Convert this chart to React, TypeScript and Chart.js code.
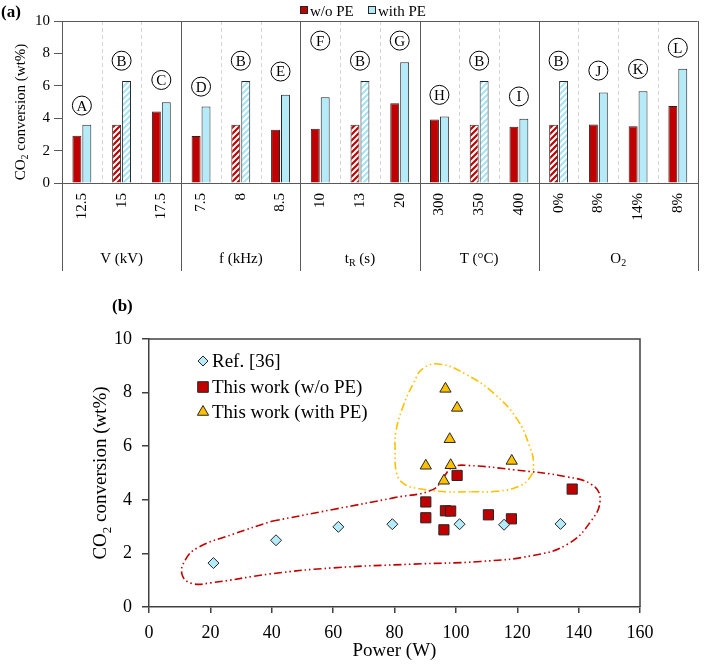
import React, { useEffect, useRef } from 'react';
import { Chart, registerables } from 'chart.js';

Chart.register(...registerables);

// ---------- data: panel (a) ----------
const categories = ['12.5', '15', '17.5', '7.5', '8', '8.5', '10', '13', '20', '300', '350', '400', '0%', '8%', '14%', '8%'];
const woPE = [2.92, 3.59, 4.41, 2.9, 3.59, 3.29, 3.35, 3.59, 4.93, 3.92, 3.59, 3.47, 3.59, 3.61, 3.51, 4.76];
const withPE = [3.59, 6.3, 4.99, 4.72, 6.3, 5.44, 5.3, 6.3, 7.45, 4.11, 6.3, 3.96, 6.3, 5.59, 5.67, 7.06];
const baseline = [false, true, false, false, true, false, false, true, false, false, true, false, true, false, false, false];
const letters = ['A', 'B', 'C', 'D', 'B', 'E', 'F', 'B', 'G', 'H', 'B', 'I', 'B', 'J', 'K', 'L'];
const letterValues = [4.78, 7.55, 6.36, 5.95, 7.55, 6.88, 8.79, 7.55, 8.79, 5.44, 7.55, 5.34, 7.55, 6.94, 7.04, 8.35];
const groupNames = ['V (kV)', 'f (kHz)', 't_R (s)', 'T (°C)', 'O_2'];
const groupSizes = [3, 3, 3, 3, 4];
const seriesNamesA = ['w/o PE', 'with PE'];
const yTitleA = 'CO_2 conversion (wt%)';

// ---------- data: panel (b) ----------
const refPower = [21, 41.4, 61.7, 79.3, 101.2, 115.7, 134.1];
const refConv = [1.64, 2.49, 2.99, 3.09, 3.09, 3.07, 3.1];
const woPower = [90.2, 90.2, 96.6, 98.3, 96.1, 100.4, 110.6, 118.1, 137.9];
const woConv = [3.92, 3.33, 3.59, 3.58, 2.88, 4.91, 3.44, 3.29, 4.4];
const withPower = [96.6, 100.4, 98.0, 90.2, 98.3, 118.2, 96.1];
const withConv = [8.14, 7.43, 6.26, 5.27, 5.29, 5.45, 4.71];
const seriesNamesB = ['Ref. [36]', 'This work (w/o PE)', 'This work (with PE)'];
// hand-drawn enclosing loops (data coordinates)
const redLoopX = [40, 60, 80, 92.5, 96, 99, 104, 118.8, 136, 144.5, 147, 144, 136.5, 125, 108, 86, 60, 40, 20, 14, 10.8, 11.8, 16, 27.5, 40];
const redLoopY = [3.2, 3.64, 4.08, 4.38, 4.85, 5.22, 5.28, 5.12, 4.86, 4.55, 4.0, 3.2, 2.35, 1.92, 1.7, 1.6, 1.46, 1.24, 0.9, 0.88, 1.2, 1.75, 2.22, 2.72, 3.2];
const orangeLoopX = [105, 113.4, 120.5, 124.2, 125.3, 124, 120, 112.3, 103.6, 95, 89.4, 86.2, 82.4, 80.4, 80.2, 80.7, 83, 87.3, 97, 105];
const orangeLoopY = [4.3, 4.32, 4.5, 4.85, 5.35, 6.0, 7.0, 7.98, 8.66, 9.06, 8.91, 8.35, 7.36, 6.5, 5.9, 5.0, 4.6, 4.43, 4.3, 4.3];
const xTitleB = 'Power (W)';
const yTitleB = 'CO_2 conversion (wt%)';

// ---------- styles ----------
const SERIF = '"Liberation Serif", "Times New Roman", Times, serif';
const RED = '#c00000';
const BLUE = '#b5ebf8';
const ORANGE = '#ffc000';
const EDGE = '#262626';
const AXIS_A = '#595959';
const DASH_A = '#d4d4d4';
const AXIS_B = '#404040';

Chart.defaults.font.family = SERIF;
Chart.defaults.color = '#000';

function parseRich(text: string) {
  const parts: { t: string; sub: boolean }[] = [];
  const re = /_(.)/g;
  let last = 0;
  let m: RegExpExecArray | null;
  while ((m = re.exec(text))) {
    if (m.index > last) parts.push({ t: text.slice(last, m.index), sub: false });
    parts.push({ t: m[1], sub: true });
    last = m.index + 2;
  }
  if (last < text.length) parts.push({ t: text.slice(last), sub: false });
  return parts;
}

function drawRich(ctx: CanvasRenderingContext2D, text: string, x: number, y: number, size: number, rotate = false, align = 'center', weight = 'normal') {
  const parts = parseRich(text);
  const subSize = Math.round(size * 0.66);
  ctx.save();
  ctx.translate(x, y);
  if (rotate) ctx.rotate(-Math.PI / 2);
  ctx.textBaseline = 'alphabetic';
  ctx.textAlign = 'left';
  ctx.fillStyle = '#000';
  let total = 0;
  const widths = parts.map((p) => {
    ctx.font = `${weight} ${p.sub ? subSize : size}px ${SERIF}`;
    const w = ctx.measureText(p.t).width;
    total += w;
    return w;
  });
  let cx = align === 'center' ? -total / 2 : 0;
  const baseY = size * 0.34;
  parts.forEach((p, i) => {
    ctx.font = `${weight} ${p.sub ? subSize : size}px ${SERIF}`;
    ctx.fillText(p.t, cx, p.sub ? baseY + size * 0.22 : baseY);
    cx += widths[i];
  });
  ctx.restore();
}

function makeHatch(color: string): CanvasPattern | string {
  const c = document.createElement('canvas');
  c.width = 6;
  c.height = 6;
  const g = c.getContext('2d');
  if (!g) return color;
  g.fillStyle = '#fff';
  g.fillRect(0, 0, 6, 6);
  g.strokeStyle = color;
  g.lineWidth = 2.2;
  g.beginPath();
  g.moveTo(-1, 7);
  g.lineTo(7, -1);
  g.moveTo(-1, 1);
  g.lineTo(1, -1);
  g.moveTo(5, 7);
  g.lineTo(7, 5);
  g.stroke();
  return g.createPattern(c, 'repeat') || color;
}

function hline(ctx: CanvasRenderingContext2D, x1: number, x2: number, y: number) {
  const yy = Math.round(y) + 0.5;
  ctx.beginPath();
  ctx.moveTo(x1, yy);
  ctx.lineTo(x2, yy);
  ctx.stroke();
}
function vline(ctx: CanvasRenderingContext2D, x: number, y1: number, y2: number) {
  const xx = Math.round(x) + 0.5;
  ctx.beginPath();
  ctx.moveTo(xx, y1);
  ctx.lineTo(xx, y2);
  ctx.stroke();
}

const LINE_BOTTOM_A = 271;
const GROUP_LABEL_Y = 258;

function groupEdges(chart: any): number[] {
  const x = chart.scales.x;
  const ca = chart.chartArea;
  const edges = [ca.left];
  let acc = 0;
  groupSizes.forEach((s) => {
    acc += s;
    edges.push(acc < categories.length ? (x.getPixelForValue(acc - 1) + x.getPixelForValue(acc)) / 2 : ca.right);
  });
  return edges;
}

const panelAPlugin = {
  id: 'panelA',
  beforeDatasetsDraw(chart: any) {
    const { ctx, chartArea: ca, scales } = chart;
    const x = scales.x;
    const ends = new Set<number>();
    let acc = 0;
    groupSizes.forEach((s) => {
      acc += s;
      ends.add(acc);
    });
    ctx.save();
    ctx.strokeStyle = DASH_A;
    ctx.lineWidth = 1;
    ctx.setLineDash([4, 3]);
    for (let i = 1; i < categories.length; i++) {
      if (ends.has(i)) continue;
      const px = (x.getPixelForValue(i - 1) + x.getPixelForValue(i)) / 2;
      vline(ctx, px, ca.top, ca.bottom);
    }
    ctx.restore();
  },
  afterDraw(chart: any) {
    const { ctx, chartArea: ca, scales } = chart;
    const x = scales.x;
    const y = scales.y;
    ctx.save();
    ctx.strokeStyle = AXIS_A;
    ctx.lineWidth = 1;
    hline(ctx, ca.left, ca.right, ca.top);
    const edges = groupEdges(chart);
    edges.forEach((px) => vline(ctx, px, ca.top, LINE_BOTTOM_A));
    groupNames.forEach((g, gi) => {
      drawRich(ctx, g, (edges[gi] + edges[gi + 1]) / 2, GROUP_LABEL_Y, 15);
    });
    // circled letters
    ctx.strokeStyle = '#000';
    ctx.lineWidth = 1;
    letters.forEach((l, i) => {
      const cx = x.getPixelForValue(i);
      const cy = y.getPixelForValue(letterValues[i]);
      ctx.beginPath();
      ctx.arc(cx, cy, 9.5, 0, Math.PI * 2);
      ctx.fillStyle = '#fff';
      ctx.fill();
      ctx.stroke();
      ctx.fillStyle = '#000';
      ctx.font = `15px ${SERIF}`;
      ctx.textAlign = 'center';
      ctx.textBaseline = 'middle';
      ctx.fillText(l, cx, cy + 1);
    });
    // legend
    const legendX = [300, 368];
    const fills = [RED, BLUE];
    seriesNamesA.forEach((name, i) => {
      ctx.fillStyle = fills[i];
      ctx.fillRect(legendX[i] + 0.5, 6.5, 7, 7);
      ctx.strokeStyle = EDGE;
      ctx.strokeRect(legendX[i] + 0.5, 6.5, 7, 7);
      drawRich(ctx, name, legendX[i] + 10, 10.5, 15, false, 'left');
    });
    drawRich(ctx, '(a)', 1, 11.5, 17, false, 'left', 'bold');
    drawRich(ctx, yTitleA, 20, 112, 15, true);
    ctx.restore();
  },
};

function drawMarker(ctx: CanvasRenderingContext2D, shape: string, cx: number, cy: number, r: number, fill: string) {
  ctx.beginPath();
  if (shape === 'rectRot') {
    ctx.moveTo(cx, cy - r);
    ctx.lineTo(cx + r, cy);
    ctx.lineTo(cx, cy + r);
    ctx.lineTo(cx - r, cy);
    ctx.closePath();
  } else if (shape === 'rect') {
    const s = r * Math.SQRT1_2;
    ctx.rect(cx - s, cy - s, 2 * s, 2 * s);
  } else {
    const a = (2 * Math.PI) / 3;
    ctx.moveTo(cx, cy - r);
    ctx.lineTo(cx + Math.sin(a) * r, cy - Math.cos(a) * r);
    ctx.lineTo(cx + Math.sin(2 * a) * r, cy - Math.cos(2 * a) * r);
    ctx.closePath();
  }
  ctx.fillStyle = fill;
  ctx.fill();
  ctx.strokeStyle = EDGE;
  ctx.lineWidth = 1;
  ctx.stroke();
}

const panelBPlugin = {
  id: 'panelB',
  afterDraw(chart: any) {
    const { ctx, chartArea: ca } = chart;
    ctx.save();
    ctx.strokeStyle = AXIS_B;
    ctx.lineWidth = 1.5;
    ctx.beginPath();
    ctx.moveTo(ca.left, ca.top);
    ctx.lineTo(ca.right, ca.top);
    ctx.lineTo(ca.right, ca.bottom);
    ctx.stroke();
    const shapes = ['rectRot', 'rect', 'triangle'];
    const fills = [BLUE, RED, ORANGE];
    const radii = [5, 7.5, 6.5];
    const rowsY = [22, 48, 73];
    seriesNamesB.forEach((name, i) => {
      drawMarker(ctx, shapes[i], ca.left + 54, ca.top + rowsY[i], radii[i], fills[i]);
      drawRich(ctx, name, ca.left + 63, ca.top + rowsY[i], 19, false, 'left');
    });
    drawRich(ctx, yTitleB, 100, (ca.top + ca.bottom) / 2, 19, true);
    drawRich(ctx, xTitleB, (ca.left + ca.right) / 2, 360, 19);
    drawRich(ctx, '(b)', 112, 15, 17, false, 'left', 'bold');
    ctx.restore();
  },
};

export default function App() {
  const refA = useRef<HTMLCanvasElement>(null);
  const refB = useRef<HTMLCanvasElement>(null);

  useEffect(() => {
    const redHatch = makeHatch(RED);
    const blueHatch = makeHatch('#a6e4f4');
    const chartA = new Chart(refA.current as HTMLCanvasElement, {
      type: 'bar',
      data: {
        labels: categories,
        datasets: [
          {
            label: seriesNamesA[0],
            data: woPE,
            backgroundColor: woPE.map((_, i) => (baseline[i] ? redHatch : RED)) as any,
            borderColor: EDGE,
            borderWidth: 1,
            categoryPercentage: 0.5,
            barPercentage: 0.9,
          },
          {
            label: seriesNamesA[1],
            data: withPE,
            backgroundColor: withPE.map((_, i) => (baseline[i] ? blueHatch : BLUE)) as any,
            borderColor: EDGE,
            borderWidth: 1,
            categoryPercentage: 0.5,
            barPercentage: 0.9,
          },
        ],
      },
      options: {
        responsive: false,
        animation: false,
        layout: { padding: { top: 21, right: 6, left: 0, bottom: 0 } },
        plugins: { legend: { display: false }, tooltip: { enabled: false } },
        scales: {
          x: {
            grid: { display: false, drawTicks: false },
            border: { display: true, color: AXIS_A, width: 1 },
            ticks: {
              autoSkip: false,
              minRotation: 90,
              maxRotation: 90,
              padding: 10,
              color: '#000',
              font: { family: SERIF, size: 15 },
            },
            afterFit: (s: any) => {
              s.height = 107;
            },
          },
          y: {
            min: 0,
            max: 10,
            ticks: { stepSize: 2, padding: 4, color: '#000', font: { family: SERIF, size: 15 } },
            grid: { drawOnChartArea: false, tickLength: 8, color: AXIS_A },
            border: { display: true, color: AXIS_A, width: 1 },
            afterFit: (s: any) => {
              s.width = 62;
            },
          },
        },
      },
      plugins: [panelAPlugin],
    });

    const chartB = new Chart(refB.current as HTMLCanvasElement, {
      type: 'scatter',
      data: {
        datasets: [
          {
            label: seriesNamesB[0],
            data: refPower.map((p, i) => ({ x: p, y: refConv[i] })),
            pointStyle: 'rectRot',
            pointRadius: 5.5,
            backgroundColor: BLUE,
            borderColor: EDGE,
            borderWidth: 1,
            order: 1,
          },
          {
            label: seriesNamesB[1],
            data: woPower.map((p, i) => ({ x: p, y: woConv[i] })),
            pointStyle: 'rect',
            pointRadius: 7.2,
            backgroundColor: RED,
            borderColor: EDGE,
            borderWidth: 1,
            order: 1,
          },
          {
            label: seriesNamesB[2],
            data: withPower.map((p, i) => ({ x: p, y: withConv[i] })),
            pointStyle: 'triangle',
            pointRadius: 6.5,
            backgroundColor: ORANGE,
            borderColor: EDGE,
            borderWidth: 1,
            order: 1,
          },
          {
            type: 'line',
            label: 'red loop',
            data: redLoopX.map((p, i) => ({ x: p, y: redLoopY[i] })),
            borderColor: RED,
            borderWidth: 1.6,
            borderDash: [8, 3, 1.5, 3, 1.5, 3],
            pointRadius: 0,
            tension: 0.45,
            fill: false,
            order: 5,
          } as any,
          {
            type: 'line',
            label: 'orange loop',
            data: orangeLoopX.map((p, i) => ({ x: p, y: orangeLoopY[i] })),
            borderColor: ORANGE,
            borderWidth: 1.6,
            borderDash: [8, 3, 1.5, 3, 1.5, 3],
            pointRadius: 0,
            tension: 0.45,
            fill: false,
            order: 5,
          } as any,
        ],
      },
      options: {
        responsive: false,
        animation: false,
        layout: { padding: { top: 49, right: 66, left: 0, bottom: 0 } },
        plugins: { legend: { display: false }, tooltip: { enabled: false } },
        scales: {
          x: {
            type: 'linear',
            min: 0,
            max: 160,
            ticks: { stepSize: 20, padding: 9, color: '#000', font: { family: SERIF, size: 18 } },
            grid: { drawOnChartArea: false, tickLength: 6, color: AXIS_B, lineWidth: 1.5 },
            border: { display: true, color: AXIS_B, width: 1.5 },
            afterFit: (s: any) => {
              s.height = 64;
            },
          },
          y: {
            min: 0,
            max: 10,
            ticks: { stepSize: 2, padding: 10, color: '#000', font: { family: SERIF, size: 18 } },
            grid: { drawOnChartArea: false, tickLength: 7, color: AXIS_B, lineWidth: 1.5 },
            border: { display: true, color: AXIS_B, width: 1.5 },
            afterFit: (s: any) => {
              s.width = 149;
            },
          },
        },
      },
      plugins: [panelBPlugin],
    });

    return () => {
      chartA.destroy();
      chartB.destroy();
    };
  }, []);

  return (
    <div style={{ position: 'absolute', left: 0, top: 0, width: 706, height: 671, background: '#fff' }}>
      <canvas ref={refA} width={706} height={290} style={{ position: 'absolute', left: 0, top: 0 }} />
      <canvas ref={refB} width={706} height={381} style={{ position: 'absolute', left: 0, top: 290 }} />
    </div>
  );
}
